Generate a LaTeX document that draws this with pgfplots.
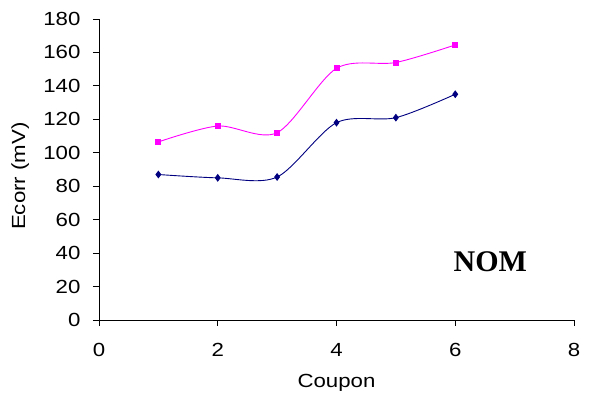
\documentclass[border=0pt]{standalone}
\usepackage{fontspec}
\setmainfont{Liberation Sans}[FakeStretch=1.17]
\newfontfamily\nomfont{Liberation Serif}
\usepackage{pgfplots}
\pgfplotsset{compat=1.18}
\definecolor{ecpink}{RGB}{255,0,255}
\definecolor{ecnavy}{RGB}{0,0,128}
\newcommand{\lblfont}{\fontsize{19}{22}\selectfont}
\begin{document}
\begin{tikzpicture}
\begin{axis}[
  scale only axis,
  width=475pt, height=301pt,
  xmin=0, xmax=8, ymin=0, ymax=180,
  xtick={0,2,...,8}, ytick={0,20,...,180},
  axis x line=bottom, axis y line=left,
  axis line style={-, black, line width=0.8pt},
  tick style={black, line width=0.8pt},
  tick align=outside,
  major tick length=6pt,
  /pgf/number format/assume math mode=true,
  tick label style={font=\lblfont},
  yticklabel style={xshift=-9pt},
  xticklabel style={yshift=-14pt},
  xlabel={Coupon},
  ylabel={Ecorr (mV)},
  every axis x label/.style={at={(axis description cs:0.5,-0.209)}, anchor=center, font=\lblfont},
  every axis y label/.style={at={(axis description cs:-0.166,0.478)}, rotate=90, anchor=center, font=\lblfont},
  clip=false,
]
\addplot[color=ecpink, line width=0.9pt, smooth, mark=square*, mark size=2.5pt,
  mark options={fill=ecpink, draw=ecpink}]
  coordinates {(1,106.5) (2,116) (3,112) (4,150.5) (5,154) (6,164.5)};
\addplot[color=ecnavy, line width=0.9pt, smooth, mark=diamond*, mark size=3.2pt,
  mark options={fill=ecnavy, draw=ecnavy}]
  coordinates {(1,87) (2,85) (3,85.5) (4,118) (5,121) (6,135)};
\node[font={\nomfont\fontsize{30}{30}\selectfont\bfseries}] at (axis cs:6.59,34.9) {NOM};
\end{axis}
\pgfresetboundingbox
\path[use as bounding box] ([xshift=-99pt,yshift=-81pt]current axis.south west) rectangle ++(592pt,401pt);
\end{tikzpicture}
\end{document}
